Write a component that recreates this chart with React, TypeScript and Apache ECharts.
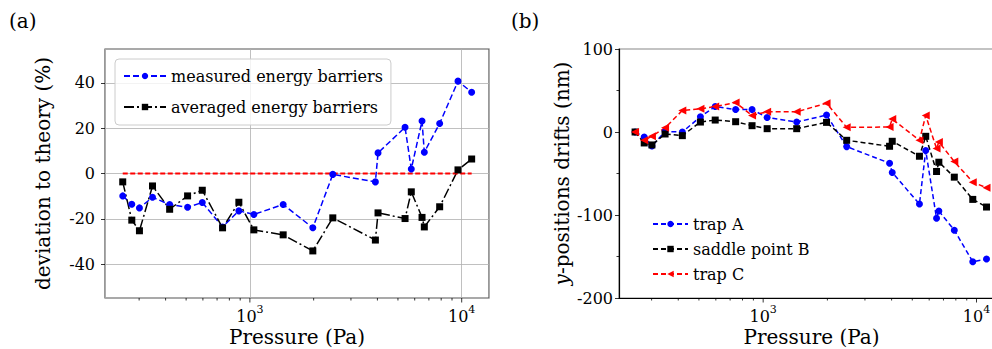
import React, { useEffect, useRef } from 'react';
import * as echarts from 'echarts';

// ---- data ----
const pressure = [251, 277, 301, 347, 418, 508, 596, 743, 887, 1044, 1436, 1982, 2463, 3913, 4027, 5402, 5781, 6497, 6661, 7870, 9605, 11143];
const measured = [-9.9, -13.6, -15.2, -10.5, -13.7, -14.9, -12.8, -23.6, -16.5, -18.1, -13.7, -24.0, -0.4, -3.7, 9.1, 20.4, 2.0, 23.2, 9.4, 22.1, 40.8, 35.9];
const averaged = [-3.7, -20.6, -25.3, -5.5, -15.8, -9.9, -7.4, -24.0, -12.7, -24.9, -27.1, -34.2, -19.6, -29.4, -17.4, -19.9, -8.1, -19.4, -23.6, -14.7, 1.6, 6.4];
const trapA = [0, -6.0, -16.8, 0.5, 0, 18.3, 30.7, 27.1, 27.1, 17.5, 12.0, 20.4, -17.6, -37.6, -48.8, -86.8, -22.4, -104, -95.2, -118.3, -156.3, -153.1];
const saddleB = [0, -13.2, -15.6, -2.4, -4.4, 12.0, 14.4, 12.4, 7.6, 4.0, 4.0, 11.6, -10.0, -17.2, -11.2, -29.2, -5.2, -47.6, -36.4, -54.4, -81.2, -90.4];
const trapC = [0, -10, -5, 5, 25.9, 27.9, 30.7, 35.5, 19.9, 24.3, 24.3, 34.7, 5.6, 6.0, 15.6, -10.0, 19.9, -20.0, -12.0, -35.6, -60.4, -67.2];
const theoryLevel = [0, 0];

const leftYTicks = [-40, -20, 0, 20, 40];
const xMajorTicks = [1000, 10000];
const xMinorTicks = [300, 400, 500, 600, 700, 800, 900, 2000, 3000, 4000, 5000, 6000, 7000, 8000, 9000];

const legendLeft = ['measured energy barriers', 'averaged energy barriers'];
const legendRight = ['trap A', 'saddle point B', 'trap C'];

const FONT = 'DejaVu Serif';

function pairs(ys: number[]) {
  return pressure.map((p, i) => [p, ys[i]]);
}

function logLabel(v: number) {
  const l = Math.log10(v);
  const e = Math.round(l);
  if (Math.abs(l - e) > 1e-6) return '';
  return `{b|10}{s|${e}}`;
}

const xRich = {
  b: { fontSize: 16, fontFamily: FONT, color: '#000', lineHeight: 20, verticalAlign: 'bottom' },
  s: { fontSize: 11, fontFamily: FONT, color: '#000', lineHeight: 12, verticalAlign: 'top' },
};

function tickSeries(idx: number) {
  return {
    type: 'custom',
    xAxisIndex: idx,
    yAxisIndex: idx,
    silent: true,
    z: 10,
    clip: false,
    encode: { x: 0, y: 1 },
    data: [...xMajorTicks.map((v) => [v, 1]), ...xMinorTicks.map((v) => [v, 0])],
    renderItem: (params: any, api: any) => {
      const cs = params.coordSys;
      const x = api.coord([api.value(0), 0])[0];
      const y = cs.y + cs.height;
      const len = api.value(1) ? 4.5 : 2.5;
      return {
        type: 'line',
        shape: { x1: x, y1: y, x2: x, y2: y + len },
        style: { stroke: '#000', lineWidth: 0.8 },
      };
    },
  };
}

export default function App() {
  const ref = useRef<HTMLDivElement>(null);
  useEffect(() => {
    if (!ref.current) return;
    const chart = echarts.init(ref.current, undefined, { renderer: 'svg' });
    const xName = {
      name: 'Pressure (Pa)', nameLocation: 'middle', nameGap: 29, nameMoveOverlap: false,
      nameTextStyle: { fontFamily: FONT, fontSize: 20, color: '#000' },
    };
    const option: any = {
      animation: false,
      backgroundColor: '#ffffff',
      textStyle: { fontFamily: FONT },
      graphic: [
        { type: 'text', left: 9, top: 11, style: { text: '(a)', font: `20px "${FONT}"`, fill: '#000' } },
        { type: 'text', left: 511, top: 11, style: { text: '(b)', font: `20px "${FONT}"`, fill: '#000' } },
      ],
      grid: [
        { left: 105, top: 49, width: 384, height: 249, show: true, borderColor: '#555', borderWidth: 1.2, outerBoundsMode: 'none' },
        { left: 619, top: 49, width: 385, height: 249, show: true, borderColor: '#888', borderWidth: 1.2, outerBoundsMode: 'none' },
      ],
      legend: [
        {
          data: legendLeft,
          orient: 'vertical',
          left: 115,
          top: 59,
          itemWidth: 42,
          itemHeight: 8,
          itemGap: 15,
          padding: [9, 8, 10, 8],
          borderColor: '#cccccc',
          borderWidth: 1,
          borderRadius: 4,
          backgroundColor: 'rgba(255,255,255,0.8)',
          textStyle: { fontFamily: FONT, fontSize: 16, color: '#000' },
        },
        {
          data: legendRight,
          orient: 'vertical',
          left: 652,
          top: 216,
          itemWidth: 35,
          itemHeight: 8,
          itemGap: 9,
          padding: 0,
          textStyle: { fontFamily: FONT, fontSize: 16, color: '#000' },
        },
      ],
      xAxis: [
        {
          type: 'log', logBase: 10, gridIndex: 0, min: 207, max: 13455,
          axisLine: { show: false, onZero: false },
          axisTick: { show: false },
          splitLine: { show: true, lineStyle: { color: '#b0b0b0', width: 0.8 } },
          axisLabel: { formatter: logLabel, rich: xRich, margin: 6 },
          ...xName,
        },
        {
          type: 'log', logBase: 10, gridIndex: 1, min: 211, max: 13455,
          axisLine: { show: true, onZero: false, lineStyle: { color: '#000', width: 1.2 } },
          axisTick: { show: false },
          splitLine: { show: false },
          axisLabel: { formatter: logLabel, rich: xRich, margin: 6 },
          ...xName,
        },
      ],
      yAxis: [
        {
          type: 'value', gridIndex: 0, min: -55, max: 55,
          axisLine: { show: false, onZero: false },
          axisTick: { show: true, length: 4, customValues: leftYTicks, lineStyle: { color: '#000', width: 0.8 } },
          splitLine: { show: true, lineStyle: { color: '#b0b0b0', width: 0.8 } },
          axisLabel: { customValues: leftYTicks, fontSize: 16, fontFamily: FONT, color: '#000', margin: 10 },
          name: 'deviation to theory (%)', nameLocation: 'middle', nameGap: 52, nameMoveOverlap: false,
          nameTextStyle: { fontFamily: FONT, fontSize: 20, color: '#000' },
        },
        {
          type: 'value', gridIndex: 1, min: -200, max: 100, interval: 100,
          axisLine: { show: true, onZero: false, lineStyle: { color: '#000', width: 1.2 } },
          axisTick: { show: true, length: 4, lineStyle: { color: '#000', width: 0.8 } },
          minorTick: { show: true, splitNumber: 2, length: 2.5, lineStyle: { color: '#000', width: 0.8 } },
          splitLine: { show: false },
          axisLabel: { fontSize: 16, fontFamily: FONT, color: '#000', margin: 6 },
          name: '{i|y}-positions drifts (nm)', nameLocation: 'middle', nameGap: 47, nameMoveOverlap: false,
          nameTextStyle: {
            fontFamily: FONT, fontSize: 20, color: '#000',
            rich: { i: { fontFamily: FONT, fontSize: 20, fontStyle: 'italic', color: '#000' } },
          },
        },
      ],
      series: [
        {
          name: legendLeft[0], type: 'line', xAxisIndex: 0, yAxisIndex: 0,
          data: pairs(measured), symbol: 'circle', symbolSize: 7,
          itemStyle: { color: '#0000ff' }, lineStyle: { color: '#0000ff', width: 1.5, type: [6, 3] },
        },
        {
          name: legendLeft[1], type: 'line', xAxisIndex: 0, yAxisIndex: 0,
          data: pairs(averaged), symbol: 'rect', symbolSize: 7,
          itemStyle: { color: '#000000' }, lineStyle: { color: '#000000', width: 1.5, type: [10, 3, 2, 3] },
        },
        {
          name: 'theory', type: 'line', xAxisIndex: 0, yAxisIndex: 0,
          data: [[pressure[0], theoryLevel[0]], [pressure[pressure.length - 1], theoryLevel[1]]],
          symbol: 'none', lineStyle: { color: '#ff0000', width: 1.8, type: [5, 2.5] }, itemStyle: { color: '#ff0000' },
        },
        {
          name: legendRight[0], type: 'line', xAxisIndex: 1, yAxisIndex: 1,
          data: pairs(trapA), symbol: 'circle', symbolSize: 7,
          itemStyle: { color: '#0000ff' }, lineStyle: { color: '#0000ff', width: 1.5, type: [5, 3] },
        },
        {
          name: legendRight[1], type: 'line', xAxisIndex: 1, yAxisIndex: 1,
          data: pairs(saddleB), symbol: 'rect', symbolSize: 7,
          itemStyle: { color: '#000000' }, lineStyle: { color: '#000000', width: 1.5, type: [5, 3] },
        },
        {
          name: legendRight[2], type: 'line', xAxisIndex: 1, yAxisIndex: 1,
          data: pairs(trapC), symbol: 'triangle', symbolSize: 8, symbolRotate: 90,
          itemStyle: { color: '#ff0000' }, lineStyle: { color: '#ff0000', width: 1.5, type: [5, 3] },
        },
        tickSeries(0),
        tickSeries(1),
      ],
    };
    chart.setOption(option);
    return () => chart.dispose();
  }, []);
  return (
    <div
      ref={ref}
      style={{ position: 'fixed', left: 0, top: 0, width: 992, height: 349, overflow: 'hidden', background: '#fff' }}
    />
  );
}
